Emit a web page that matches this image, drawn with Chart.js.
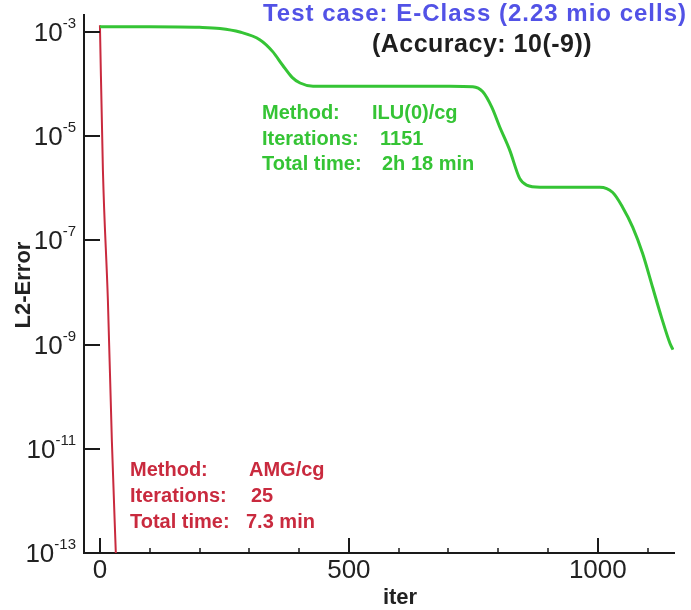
<!DOCTYPE html>
<html>
<head>
<meta charset="utf-8">
<script src="https://cdn.jsdelivr.net/npm/chart.js@4.4.0/dist/chart.umd.min.js"></script>
<style>
  body { margin: 0; background: #fff; }
  canvas { display: block; }
</style>
</head>
<body>
<canvas id="convChart" width="691" height="610"></canvas>
<script>
// ILU(0)/cg residual history
const ilucgIter = [0, 100, 200, 241, 281, 321, 347, 367, 386, 402, 428, 550, 703, 749, 769, 787, 803, 823, 843, 857, 884, 950, 1004, 1030, 1050, 1070, 1090, 1110, 1128, 1145, 1151];
const ilucgError = [1.26e-3, 1.26e-3, 1.23e-3, 1.17e-3, 1.0e-3, 7.1e-4, 4.2e-4, 2.3e-4, 1.35e-4, 1.05e-4, 9.1e-5, 9.1e-5, 9.1e-5, 8.9e-5, 7.1e-5, 3.6e-5, 1.5e-5, 5.4e-6, 1.55e-6, 1.15e-6, 1.05e-6, 1.05e-6, 1.05e-6, 8.3e-7, 4.3e-7, 1.8e-7, 5.6e-8, 1.26e-8, 3.3e-9, 1.05e-9, 8e-10];

// AMG/cg residual history
const amgIter = [0, 6, 16, 24, 32];
const amgError = [1.35e-3, 2.2e-6, 7e-9, 1.4e-11, 9.5e-14];

const yDecades = [-3, -5, -7, -9, -11, -13];
const xMajor = [0, 500, 1000];
const xMinor = [100, 200, 300, 400, 600, 700, 800, 900, 1100];

const titleLines = ['Test case: E-Class (2.23 mio cells)', '(Accuracy: 10(-9))'];
const ilucgNotes = [['Method:', 'ILU(0)/cg'], ['Iterations:', '1151'], ['Total time:', '2h 18 min']];
const amgNotes = [['Method:', 'AMG/cg'], ['Iterations:', '25'], ['Total time:', '7.3 min']];

const FONT = '"Liberation Sans", Arial, Helvetica, sans-serif';
const GREEN = '#35c435';
const RED = '#c92a3e';

// inward ticks, superscript decade labels and the text blocks
const axisDecor = {
  id: 'axisDecor',
  afterDraw(chart) {
    const ctx = chart.ctx;
    const xs = chart.scales.x, ys = chart.scales.y;
    const area = chart.chartArea;
    ctx.save();

    ctx.strokeStyle = '#1a1a1a';
    ctx.lineWidth = 2;
    ctx.beginPath();
    yDecades.forEach(e => {
      const py = Math.round(ys.getPixelForValue(Math.pow(10, e)));
      ctx.moveTo(area.left, py);
      ctx.lineTo(area.left + 16, py);
    });
    xMajor.forEach(v => {
      const px = Math.round(xs.getPixelForValue(v));
      ctx.moveTo(px, area.bottom);
      ctx.lineTo(px, area.bottom - 15);
    });
    ctx.stroke();
    ctx.lineWidth = 1.5;
    ctx.beginPath();
    xMinor.forEach(v => {
      const px = Math.round(xs.getPixelForValue(v));
      ctx.moveTo(px, area.bottom);
      ctx.lineTo(px, area.bottom - 5);
    });
    ctx.stroke();

    // tick labels
    ctx.fillStyle = '#222';
    ctx.textBaseline = 'alphabetic';
    ctx.font = '26px ' + FONT;
    ctx.textAlign = 'center';
    xMajor.forEach(v => ctx.fillText(String(v), xs.getPixelForValue(v), area.bottom + 25));

    yDecades.forEach(e => {
      const py = ys.getPixelForValue(Math.pow(10, e));
      const sup = '-' + Math.abs(e);
      ctx.font = '15px ' + FONT;
      const sw = ctx.measureText(sup).width;
      ctx.textAlign = 'left';
      ctx.fillText(sup, 76 - sw, py - 4);
      ctx.font = '26px ' + FONT;
      ctx.textAlign = 'right';
      ctx.fillText('10', 76 - sw, py + 9);
    });

    // axis titles
    ctx.font = 'bold 22px ' + FONT;
    ctx.textAlign = 'center';
    ctx.textBaseline = 'middle';
    ctx.fillText('iter', 400, 598);
    ctx.save();
    ctx.translate(24, 285);
    ctx.rotate(-Math.PI / 2);
    ctx.fillText('L2-Error', 0, 0);
    ctx.restore();

    // heading
    ctx.textBaseline = 'alphabetic';
    ctx.letterSpacing = '1px';
    ctx.font = 'bold 24px ' + FONT;
    ctx.fillStyle = '#5252e6';
    ctx.fillText(titleLines[0], 475, 21);
    ctx.letterSpacing = '0.5px';
    ctx.font = 'bold 25px ' + FONT;
    ctx.fillStyle = '#1e1e1e';
    ctx.fillText(titleLines[1], 482, 52);
    ctx.letterSpacing = '0px';

    // solver notes
    ctx.textAlign = 'left';
    ctx.font = 'bold 20px ' + FONT;
    ctx.fillStyle = GREEN;
    const gValX = [372, 380, 382];
    [119, 145, 170].forEach((by, i) => {
      ctx.fillText(ilucgNotes[i][0], 262, by);
      ctx.fillText(ilucgNotes[i][1], gValX[i], by);
    });
    ctx.fillStyle = RED;
    const rValX = [249, 251, 246];
    [476, 502, 528].forEach((by, i) => {
      ctx.fillText(amgNotes[i][0], 130, by);
      ctx.fillText(amgNotes[i][1], rValX[i], by);
    });

    ctx.restore();
  }
};

new Chart(document.getElementById('convChart'), {
  type: 'line',
  data: {
    datasets: [
      {
        label: 'ILU(0)/cg',
        data: ilucgIter.map((it, i) => ({ x: it, y: ilucgError[i] })),
        borderColor: GREEN,
        borderWidth: 3,
        pointRadius: 0,
        cubicInterpolationMode: 'monotone'
      },
      {
        label: 'AMG/cg',
        data: amgIter.map((it, i) => ({ x: it, y: amgError[i] })),
        borderColor: RED,
        borderWidth: 2,
        pointRadius: 0,
        cubicInterpolationMode: 'monotone'
      }
    ]
  },
  options: {
    responsive: false,
    animation: false,
    layout: { padding: { top: 15, right: 17, left: 0, bottom: 0 } },
    plugins: { legend: { display: false }, tooltip: { enabled: false } },
    scales: {
      x: {
        type: 'linear',
        min: -32,
        max: 1153,
        grid: { drawOnChartArea: false, drawTicks: false },
        ticks: { display: false },
        border: { display: true, color: '#1a1a1a', width: 2 },
        afterFit: s => { s.height = 57; }
      },
      y: {
        type: 'logarithmic',
        min: 1e-13,
        max: 2.12e-3,
        grid: { drawOnChartArea: false, drawTicks: false },
        ticks: { display: false },
        border: { display: true, color: '#1a1a1a', width: 2 },
        afterFit: s => { s.width = 84; }
      }
    }
  },
  plugins: [axisDecor]
});
</script>
</body>
</html>
